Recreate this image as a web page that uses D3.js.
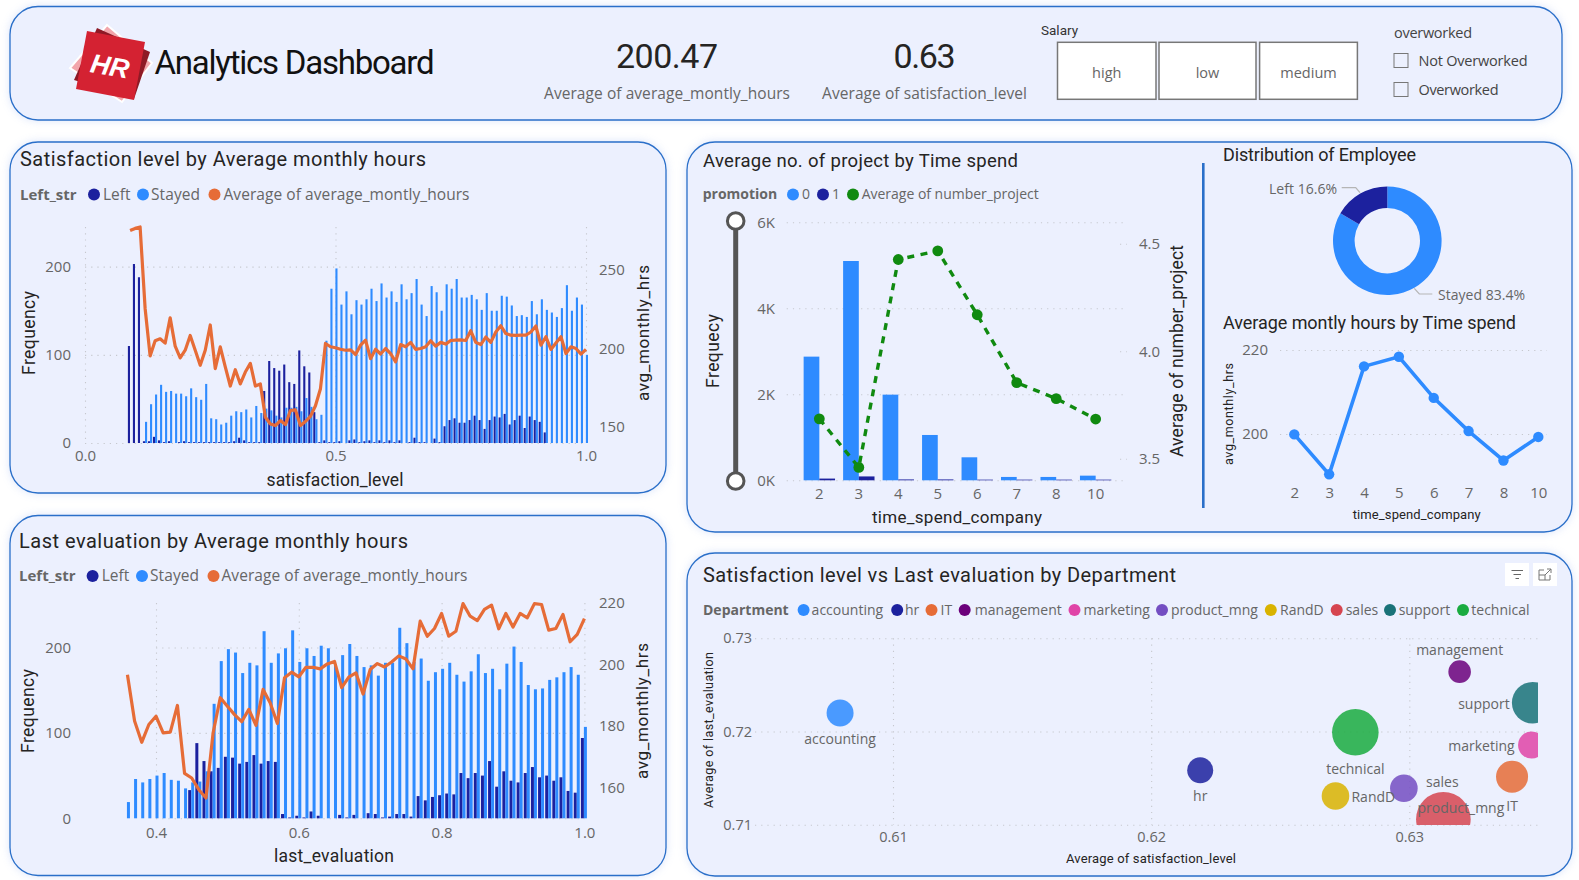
<!DOCTYPE html>
<html>
  <head>
    <meta charset="UTF-8" />
    <style>
      html, body { margin: 0; padding: 0; background: #fff; overflow: hidden; }
      svg { display: block; }
      .axis .domain { display: none; }
      .axis text { font-family: "Open Sans", sans-serif; fill: #666; }
      .grid .domain { display: none; }
      .grid text { display: none; }
      .grid line { stroke: #c6c8ce; stroke-width: 1.1; stroke-dasharray: 1.2 5; }
    </style>
  </head>
  <body>
    <svg></svg>

    <script src="https://d3js.org/d3.v7.min.js"></script>
    <script>
      // satisfaction_level bins 0.09 .. 1.00
      const satBins = d3.range(9, 101).map((d) => d / 100)
      const satLeft = [110, 203, 188,
        2, 2, 7, 3, 1, 2, 0, 1, 2, 1, 1, 1, 1, 1, 1, 1, 1, 1, 2, 6, 3, 1, 1, 1,
        59, 93, 85, 82, 89, 69, 67, 105, 87, 80, 35, 1, 3, 1,
        1, 2, 0, 3, 4, 1, 2, 3, 1, 3, 1, 3, 1, 3, 0, 1, 6, 1, 1, 0, 5, 1,
        19, 26, 28, 23, 23, 26, 31, 26, 16, 26, 30, 29, 33, 21, 26, 31, 17, 30, 26, 24, 12,
        0, 0, 0, 0, 0, 0, 0, 0]
      const satStayed = [0, 0, 0,
        24, 44, 55, 66, 58, 59, 56, 56, 53, 62, 52, 49, 67, 28, 27, 21, 23, 31, 36, 35, 38, 29, 42, 34,
        39, 37, 31, 29, 40, 40, 41, 36, 51, 41, 27, 32, 116, 175,
        198, 157, 172, 146, 162, 157, 163, 175, 161, 181, 165, 172, 160, 180, 163, 170, 186, 157, 144, 178, 171, 150,
        180, 175, 186, 165, 165, 168, 163, 151, 170, 150, 150, 167, 166, 156, 144, 145, 143, 161, 146, 163, 151,
        148, 143, 153, 179, 150, 165, 157, 100]
      const satHours = [275.2, 276.5, 277.4, 225.5, 195.3, 204.9, 206.2, 203.4, 219.5, 201.5, 194, 198.9, 208.3, 198.9, 189.3, 198.9,
        215, 187.2, 201.1, 188.3, 176.1, 186.5, 177.4, 185, 190.5, 176.1, 177.4, 156.2, 151.9, 150.9, 154.1, 151.5, 160.5, 160.9,
        150.9, 153.5, 156.8, 163.5, 174.4, 203.2, 201.1, 200.5, 199.5, 198.9, 199.1, 196.2, 202.1, 205.3, 193.5, 199.5, 196.5, 200, 196.8,
        191.5, 202.5, 201.1, 203.9, 199.4, 200, 201.1, 204.9, 201.5, 203.9, 202.8, 205.1, 205.3, 205.5, 205.1, 211.3, 203.9, 202.5,
        207.3, 203.9, 210.5, 214.5, 209.5, 208.5, 208.3, 208.5, 208.5, 210.5, 214.3, 202.1, 207.5, 199.4, 203.5, 207.5, 196.8, 201.1, 200, 196.4, 199.5]

      // last_evaluation bins 0.36 .. 1.00
      const evalBins = d3.range(36, 101).map((d) => d / 100)
      const evalLeft = [0, 0, 0, 0, 0, 0, 0, 0, 0,
        33, 88, 67, 55, 59, 72, 71, 64, 66, 74, 64, 67, 66,
        5, 1, 3, 1, 8, 3, 0, 0, 4, 1, 4, 0, 6, 5, 1, 2, 5, 5, 2,
        26, 21, 25, 27, 29, 28, 53, 47, 53, 50, 67, 37, 55, 44, 42, 53, 60, 48, 50, 44, 48, 32, 30, 94]
      const evalStayed = [19, 46, 42, 46, 50, 53, 45, 44, 35, 42, 43, 55, 134, 184, 198, 194, 170, 182, 179, 219, 182, 193, 199,
        220, 183, 199, 190, 202, 199, 180, 191, 204, 190, 177, 179, 167, 182, 182, 223, 205, 183, 187, 161, 171, 175, 182,
        168, 160, 172, 192, 170, 175, 151, 181, 201, 183, 156, 151, 152, 162, 165, 171, 177, 168, 107]
      const evalHours = [196.7, 181.6, 174.7, 180.5, 183.2, 177.8, 178, 186.7, 164.6, 163.1, 159.3, 156.6, 177.8, 189.2, 186.4,
        183.7, 181.4, 185.4, 180.2, 191.9, 187.5, 180.8, 195.7, 197.5, 196, 199.1, 199.1, 198.6, 200.2, 201, 192.5, 195.9,
        197.3, 190.4, 198.4, 200.3, 199.2, 200.8, 202.8, 201.8, 198.6, 214.1, 209.2, 211.7, 216.6, 209.2, 210.8, 219.8, 215.7,
        214.3, 217.9, 219.3, 211.6, 216.6, 212.2, 216.6, 215.2, 219.8, 219.5, 211.2, 211.7, 216.3, 207.4, 209.8, 214.9]

      // time_spend_company
      const timeCats = ['2', '3', '4', '5', '6', '7', '8', '10']
      const promo0 = [2876, 5100, 1992, 1054, 535, 78, 78, 108]
      const promo1 = [40, 90, 20, 20, 15, 15, 15, 15]
      const avgProjects = [3.686, 3.46, 4.427, 4.467, 4.17, 3.854, 3.78, 3.685]
      const avgHoursByTime = [199.9, 190.4, 216.1, 218.4, 208.6, 200.7, 193.7, 199.3]

      const donutNames = ['Stayed', 'Left']
      const donutShares = [83.4, 16.6]

      const departments = ['accounting', 'hr', 'IT', 'management', 'marketing', 'product_mng', 'RandD', 'sales', 'support', 'technical']
      const deptSatisfaction = [0.60795, 0.6219, 0.63398, 0.63195, 0.63474, 0.62979, 0.62714, 0.63132, 0.63478, 0.62791]
      const deptEvaluation = [0.72199, 0.71583, 0.71515, 0.72642, 0.71855, 0.71391, 0.71308, 0.71058, 0.72309, 0.71991]
      const deptSize = [1012, 939, 1422, 709, 1027, 1058, 1058, 4140, 2400, 3010]

      const blue = '#2E8BFF', navy = '#1C219E', orange = '#E66C37', green = '#108A10'
      const din = 'Roboto, sans-serif', ui = '"Open Sans", sans-serif'
      const deptColor = d3.scaleOrdinal().domain(departments)
        .range(['#2E8BFF', '#1C219E', '#E66C37', '#6B007B', '#E044A7', '#744EC2', '#D9B300', '#D64550', '#197278', '#1AAB40'])

      let width = 1579, height = 880
      let svg = d3.select('svg').attr('width', width).attr('height', height)

      function label(str, x, y, o = {}) {
        let t = svg.append('text')
          .attr('transform', `translate(${x},${y})` + (o.rot ? ` rotate(${o.rot})` : ''))
          .attr('dy', '.35em')
          .attr('text-anchor', o.anchor || 'start')
          .style('font-family', o.font || ui)
          .style('font-size', (o.size || 15) + 'px')
          .style('font-weight', o.weight || 400)
          .style('fill', o.color || '#555')
          .text(str)
        if (o.fit) t.attr('textLength', o.fit).attr('lengthAdjust', 'spacing')
        return t
      }

      function panel(x, y, w, h) {
        svg.append('rect')
          .attr('x', x).attr('y', y).attr('width', w).attr('height', h)
          .attr('rx', 28).attr('ry', 28)
          .attr('fill', '#ECF0FE')
          .attr('stroke', '#2A6FC9')
          .attr('stroke-width', 1.3)
          .style('filter', 'drop-shadow(0 0 4px rgba(90,130,230,.22))')
      }

      function legend(y, size, items) {
        items.forEach((d) => {
          svg.append('circle').attr('cx', d.mx).attr('cy', y).attr('r', 6).attr('fill', d.color)
          label(d.name, d.tx, y, { size: size, color: '#666', fit: d.fit })
        })
      }

      function gridY(scale, ticks, x0, x1) {
        svg.append('g').attr('class', 'grid')
          .attr('transform', `translate(${x0},0)`)
          .call(d3.axisRight(scale).tickValues(ticks).tickSize(x1 - x0))
      }

      function gridX(scale, ticks, y0, y1) {
        svg.append('g').attr('class', 'grid')
          .attr('transform', `translate(0,${y0})`)
          .call(d3.axisBottom(scale).tickValues(ticks).tickSize(y1 - y0))
      }

      function axis(a, x, y, size) {
        let g = svg.append('g').attr('class', 'axis')
          .attr('transform', `translate(${x},${y})`)
          .call(a.tickSize(0).tickPadding(0))
        g.selectAll('text').style('font-size', (size || 15) + 'px')
        return g
      }

      // one of the two histogram + line combos on the left
      function comboChart(bins, left, stayed, hours, c) {
        let x = d3.scaleLinear().domain(c.xDomain).range(c.xRange)
        let y = d3.scaleLinear().domain(c.yDomain).range(c.yRange)
        let y2 = d3.scaleLinear().domain(c.y2Domain).range(c.yRange)
        let inner = d3.scaleBand().domain(['Left', 'Stayed']).range(c.inner)

        gridY(y, c.yTicks, c.xRange[0], c.xRange[1])
        gridX(x, c.xTicks, c.yRange[1], c.yRange[0])

        svg.append('g').selectAll('rect').data(bins).enter().append('rect')
          .attr('x', (d) => x(d) + inner('Left'))
          .attr('width', inner.bandwidth())
          .attr('y', (d, i) => y(left[i]))
          .attr('height', (d, i) => y(0) - y(left[i]))
          .attr('fill', navy)
        svg.append('g').selectAll('rect').data(bins).enter().append('rect')
          .attr('x', (d) => x(d) + inner('Stayed'))
          .attr('width', inner.bandwidth())
          .attr('y', (d, i) => y(stayed[i]))
          .attr('height', (d, i) => y(0) - y(stayed[i]))
          .attr('fill', blue)

        svg.append('path')
          .attr('d', d3.line().x((d, i) => x(bins[i])).y((d) => y2(d))(hours))
          .attr('fill', 'none')
          .attr('stroke', orange)
          .attr('stroke-width', 3.2)
          .attr('stroke-linejoin', 'round')

        axis(d3.axisLeft(y).tickValues(c.yTicks), 71, 0)
        axis(d3.axisRight(y2).tickValues(c.y2Ticks), 599, 0)
        axis(d3.axisBottom(x).tickValues(c.xTicks).tickFormat(d3.format('.1f')), 0, c.xLabelY)
      }

      // ---- panels
      panel(10, 6.5, 1552, 113.5)
      panel(10, 142, 656, 351)
      panel(10, 515.5, 656, 360)
      panel(687, 142, 885, 390)
      panel(687, 553, 885, 323)

      // ---- header
      let logo = svg.append('g')
      logo.append('polygon').attr('points', '107,25 152,63 122,102 70,68').attr('fill', '#F2A5AB').attr('stroke', '#fff').attr('stroke-width', 2)
      logo.append('polygon').attr('points', '97,28 150,52 134,99 74,80').attr('fill', '#8E1A26')
      logo.append('polygon').attr('points', '87,31 145,42 134,100 76,89').attr('fill', '#D42232')
      label('HR', 110, 66, { font: '"Liberation Sans", sans-serif', size: 27, weight: 700, color: '#fff', anchor: 'middle', rot: 10 })
        .style('font-style', 'italic')

      label('Analytics Dashboard', 154.5, 62, { font: din, size: 33, color: '#111', fit: 280 })
      label('200.47', 667, 56, { font: din, size: 34, weight: 400, color: '#252423', anchor: 'middle', fit: 102 })
      label('Average of average_montly_hours', 667, 93.5, { size: 15.5, color: '#666', anchor: 'middle', fit: 246 })
      label('0.63', 924.5, 56, { font: din, size: 34, weight: 400, color: '#252423', anchor: 'middle', fit: 62 })
      label('Average of satisfaction_level', 924.5, 93.5, { size: 15.5, color: '#666', anchor: 'middle', fit: 205 })

      label('Salary', 1041, 30.5, { font: din, size: 13.5, color: '#333' })
      const salaryBtns = [['high', 1057.5, 98.5], ['low', 1159, 97], ['medium', 1259.6, 97.8]]
      salaryBtns.forEach((b) => {
        svg.append('rect').attr('x', b[1]).attr('y', 42.3).attr('width', b[2]).attr('height', 57)
          .attr('fill', '#fff').attr('stroke', '#777').attr('stroke-width', 1.5)
        label(b[0], b[1] + b[2] / 2, 72.5, { size: 14.5, color: '#666', anchor: 'middle' })
      })

      label('overworked', 1394, 33, { size: 14.5, color: '#444', fit: 78 })
      const overOpts = [['Not Overworked', 60.5, 109], ['Overworked', 89.5, 80]]
      overOpts.forEach((b) => {
        svg.append('rect').attr('x', 1394).attr('y', b[1] - 7).attr('width', 14).attr('height', 14)
          .attr('fill', '#ECF0FE').attr('stroke', '#777').attr('stroke-width', 1)
        label(b[0], 1418.5, b[1], { size: 14.5, color: '#444', fit: b[2] })
      })

      // ---- satisfaction chart
      label('Satisfaction level by Average monthly hours', 20, 159, { font: din, size: 20, color: '#252423', fit: 406 })
      label('Left_str', 20, 194.5, { size: 15, weight: 700, color: '#666' })
      legend(194.5, 15.5, [
        { name: 'Left', mx: 94, tx: 103, color: navy },
        { name: 'Stayed', mx: 143, tx: 151, color: blue, fit: 49 },
        { name: 'Average of average_montly_hours', mx: 214.5, tx: 223.5, color: orange, fit: 246 },
      ])
      comboChart(satBins, satLeft, satStayed, satHours, {
        xDomain: [0, 1], xRange: [85, 586], xTicks: [0, 0.5, 1],
        yDomain: [0, 245], yRange: [443, 227], yTicks: [0, 100, 200],
        y2Domain: [139.8, 277.4], y2Ticks: [150, 200, 250],
        inner: [-2.2, 2.0], xLabelY: 450,
      })
      label('Frequency', 29, 333, { font: din, size: 17.5, color: '#252423', anchor: 'middle', rot: -90, fit: 84 })
      label('avg_monthly_hrs', 643, 333, { font: din, size: 17, color: '#252423', anchor: 'middle', rot: -90, fit: 136 })
      label('satisfaction_level', 335, 480, { font: din, size: 17.5, color: '#252423', anchor: 'middle', fit: 137 })

      // ---- evaluation chart
      label('Last evaluation by Average monthly hours', 19, 541, { font: din, size: 20, color: '#252423', fit: 389 })
      label('Left_str', 19, 576, { size: 15, weight: 700, color: '#666' })
      legend(576, 15.5, [
        { name: 'Left', mx: 92.6, tx: 101.7, color: navy },
        { name: 'Stayed', mx: 142, tx: 150, color: blue, fit: 49 },
        { name: 'Average of average_montly_hours', mx: 213.5, tx: 221.5, color: orange, fit: 246 },
      ])
      comboChart(evalBins, evalLeft, evalStayed, evalHours, {
        xDomain: [0.4, 1], xRange: [156, 584.4], xTicks: [0.4, 0.6, 0.8, 1],
        yDomain: [0, 252], yRange: [818.3, 603], yTicks: [0, 100, 200],
        y2Domain: [150, 220], y2Ticks: [160, 180, 200, 220],
        inner: [-3.5, 2.5], xLabelY: 827,
      })
      label('Frequency', 28, 711, { font: din, size: 17.5, color: '#252423', anchor: 'middle', rot: -90, fit: 84 })
      label('avg_monthly_hrs', 642, 711, { font: din, size: 17, color: '#252423', anchor: 'middle', rot: -90, fit: 136 })
      label('last_evaluation', 334, 856, { font: din, size: 17.5, color: '#252423', anchor: 'middle', fit: 120 })

      // ---- project chart
      label('Average no. of project by Time spend', 703, 161, { font: din, size: 18.5, color: '#252423', fit: 315 })
      label('promotion', 702.7, 194.5, { size: 14, weight: 700, color: '#666' })
      legend(194.5, 14, [
        { name: '0', mx: 793, tx: 802, color: blue },
        { name: '1', mx: 823, tx: 832, color: navy },
        { name: 'Average of number_project', mx: 853, tx: 861.7, color: green, fit: 177 },
      ])

      let xTime = d3.scaleBand().domain(timeCats).range([799.6, 1115.4])
      let yFreq = d3.scaleLinear().domain([0, 6000]).range([480.3, 222.3])
      let yProj = d3.scaleLinear().domain([3.4, 4.6]).range([480.3, 222.3])
      let promoBand = d3.scaleBand().domain(['0', '1']).range([-15.7, 15.7])

      gridY(yFreq, [0, 2000, 4000, 6000], 786.7, 1123)
      // short stubs of the secondary axis grid
      gridY(yProj, [3.5, 4, 4.5], 1120, 1127)

      svg.append('g').selectAll('rect').data(timeCats).enter().append('rect')
        .attr('x', (d) => xTime(d) + xTime.bandwidth() / 2 + promoBand('0'))
        .attr('width', promoBand.bandwidth())
        .attr('y', (d, i) => yFreq(promo0[i]))
        .attr('height', (d, i) => yFreq(0) - yFreq(promo0[i]))
        .attr('fill', blue)
      svg.append('g').selectAll('rect').data(timeCats).enter().append('rect')
        .attr('x', (d) => xTime(d) + xTime.bandwidth() / 2 + promoBand('1'))
        .attr('width', promoBand.bandwidth())
        .attr('y', (d, i) => yFreq(promo1[i]))
        .attr('height', (d, i) => yFreq(0) - yFreq(promo1[i]))
        .attr('fill', navy)

      let centerTime = (d) => xTime(d) + xTime.bandwidth() / 2
      svg.append('path')
        .attr('d', d3.line().x((d, i) => centerTime(timeCats[i])).y((d) => yProj(d))(avgProjects))
        .attr('fill', 'none')
        .attr('stroke', green)
        .attr('stroke-width', 3.4)
        .attr('stroke-dasharray', '7 6.5')
      svg.append('g').selectAll('circle').data(avgProjects).enter().append('circle')
        .attr('cx', (d, i) => centerTime(timeCats[i]))
        .attr('cy', (d) => yProj(d))
        .attr('r', 5.4)
        .attr('fill', green)

      axis(d3.axisLeft(yFreq).tickValues([0, 2000, 4000, 6000]).tickFormat((d) => d / 1000 + 'K'), 775, 0)
      axis(d3.axisRight(yProj).tickValues([3.5, 4, 4.5]).tickFormat(d3.format('.1f')), 1139, 0)
      axis(d3.axisBottom(xTime), 0, 488)

      // zoom slider next to the axis
      svg.append('line').attr('x1', 735.7).attr('x2', 735.7).attr('y1', 221).attr('y2', 481)
        .attr('stroke', '#555').attr('stroke-width', 5)
      ;[221, 481].forEach((cy) => {
        svg.append('circle').attr('cx', 735.7).attr('cy', cy).attr('r', 8.3)
          .attr('fill', '#fff').attr('stroke', '#555').attr('stroke-width', 3)
      })

      label('Frequecy', 712.7, 351, { font: din, size: 17.5, color: '#252423', anchor: 'middle', rot: -90, fit: 74 })
      label('Average of number_project', 1177, 351, { font: din, size: 17.5, color: '#252423', anchor: 'middle', rot: -90, fit: 212 })
      label('time_spend_company', 957, 517, { font: din, size: 17, color: '#252423', anchor: 'middle', fit: 170 })

      // ---- divider
      svg.append('line').attr('x1', 1203.3).attr('x2', 1203.3).attr('y1', 163).attr('y2', 508)
        .attr('stroke', '#2A6FC9').attr('stroke-width', 2.6)

      // ---- donut
      label('Distribution of Employee', 1223, 155, { font: din, size: 18, color: '#252423', fit: 193 })
      let pie = d3.pie().sort(null)(donutShares)
      let arc = d3.arc().innerRadius(32.7).outerRadius(54.3)
      svg.append('g').attr('transform', 'translate(1387.3,240.7)')
        .selectAll('path').data(pie).enter().append('path')
        .attr('d', arc)
        .attr('fill', (d, i) => (donutNames[i] == 'Left' ? navy : blue))
      svg.append('path').attr('d', 'M1341.7,187.7H1355.7L1360,192.7').attr('fill', 'none').attr('stroke', '#b5b5b5').attr('stroke-width', 1.2)
      svg.append('path').attr('d', 'M1414.3,288.3L1419.3,294H1432.3').attr('fill', 'none').attr('stroke', '#b5b5b5').attr('stroke-width', 1.2)
      label(donutNames[1] + ' ' + donutShares[1] + '%', 1269, 189, { size: 14, color: '#666', fit: 68 })
      label(donutNames[0] + ' ' + donutShares[0] + '%', 1438, 295, { size: 14, color: '#666', fit: 87 })

      // ---- monthly hours line
      label('Average montly hours by Time spend', 1223, 322.3, { font: din, size: 18, color: '#252423', fit: 293 })
      let xLine = d3.scalePoint().domain(timeCats).range([1294.3, 1538.3])
      let yLine = d3.scaleLinear().domain([200, 220]).range([434, 350])
      gridY(yLine, [200, 220], 1280, 1547)
      svg.append('path')
        .attr('d', d3.line().x((d, i) => xLine(timeCats[i])).y((d) => yLine(d))(avgHoursByTime))
        .attr('fill', 'none').attr('stroke', blue).attr('stroke-width', 3.6)
      svg.append('g').selectAll('circle').data(avgHoursByTime).enter().append('circle')
        .attr('cx', (d, i) => xLine(timeCats[i]))
        .attr('cy', (d) => yLine(d))
        .attr('r', 5.2)
        .attr('fill', blue)
      axis(d3.axisLeft(yLine).tickValues([200, 220]), 1268, 0)
      axis(d3.axisBottom(xLine), 0, 487)
      label('avg_monthly_hrs', 1229, 414, { font: din, size: 12.5, color: '#252423', anchor: 'middle', rot: -90, fit: 102 })
      label('time_spend_company', 1416.7, 514.7, { font: din, size: 13, color: '#252423', anchor: 'middle', fit: 128 })

      // ---- department scatter
      label('Satisfaction level vs Last evaluation by Department', 703, 575, { font: din, size: 20, color: '#252423', fit: 473 })
      label('Department', 703, 610, { size: 14, weight: 700, color: '#666' })
      const legendSlots = [[803.6, 811.6], [897.2, 905], [931.5, 940.5], [964.7, 974.8], [1074.5, 1083.5],
        [1162, 1171], [1270.8, 1280], [1336.7, 1345.7], [1390, 1398.7], [1463, 1471.3]]
      legend(610, 14, departments.map((d, i) => ({ name: d, mx: legendSlots[i][0], tx: legendSlots[i][1], color: deptColor(d) })))

      let xSat = d3.scaleLinear().domain([0.61, 0.63]).range([893, 1409.3])
      let yEval = d3.scaleLinear().domain([0.71, 0.73]).range([824.7, 638.3])
      let rSize = d3.scaleSqrt().domain([0, 4140]).range([0, 27.3])

      gridY(yEval, [0.71, 0.72, 0.73], 755, 1538)
      gridX(xSat, [0.61, 0.62, 0.63], 638.3, 824.7)

      svg.append('clipPath').attr('id', 'scatterClip').append('rect')
        .attr('x', 730).attr('y', 630).attr('width', 808).attr('height', 195)
      svg.append('g').attr('clip-path', 'url(#scatterClip)')
        .selectAll('circle').data(departments).enter().append('circle')
        .attr('cx', (d, i) => xSat(deptSatisfaction[i]))
        .attr('cy', (d, i) => yEval(deptEvaluation[i]))
        .attr('r', (d, i) => rSize(deptSize[i]))
        .attr('fill', (d) => deptColor(d))
        .attr('fill-opacity', 0.85)

      // label offsets from each bubble centre
      const deptLabelPos = {
        accounting: [0, 26, 'middle'], hr: [0, 26, 'middle'], IT: [0, 29, 'middle'],
        management: [0, -22, 'middle'], marketing: [-17, 1, 'end'], product_mng: [57, 20, 'middle'],
        RandD: [16, 1, 'start'], sales: [-1, -37, 'middle'], support: [-23, 1, 'end'], technical: [0, 37, 'middle'],
      }
      departments.forEach((d, i) => {
        let p = deptLabelPos[d]
        label(d, xSat(deptSatisfaction[i]) + p[0], yEval(deptEvaluation[i]) + p[1], { size: 14, color: '#666', anchor: p[2] })
      })

      axis(d3.axisLeft(yEval).tickValues([0.71, 0.72, 0.73]).tickFormat(d3.format('.2f')), 752, 0, 14.5)
      axis(d3.axisBottom(xSat).tickValues([0.61, 0.62, 0.63]).tickFormat(d3.format('.2f')), 0, 832, 14.5)
      label('Average of last_evaluation', 709, 730, { font: din, size: 12.5, color: '#252423', anchor: 'middle', rot: -90, fit: 156 })
      label('Average of satisfaction_level', 1151, 858, { font: din, size: 13, color: '#252423', anchor: 'middle', fit: 170 })

      // header icons of the visual
      svg.append('rect').attr('x', 1505).attr('y', 563).attr('width', 24).attr('height', 23).attr('fill', '#fff')
      svg.append('rect').attr('x', 1533).attr('y', 563).attr('width', 24).attr('height', 23).attr('fill', '#fff')
      svg.append('path').attr('d', 'M1511.5,570.5H1523M1513.5,574.5H1521M1515.5,578.5H1519')
        .attr('fill', 'none').attr('stroke', '#666').attr('stroke-width', 1)
      svg.append('path').attr('d', 'M1544,570H1539V580H1550V575M1545,575L1551,569M1547,569H1551V573M1539,575H1545V580')
        .attr('fill', 'none').attr('stroke', '#777').attr('stroke-width', 1)
    </script>
  </body>
</html>
